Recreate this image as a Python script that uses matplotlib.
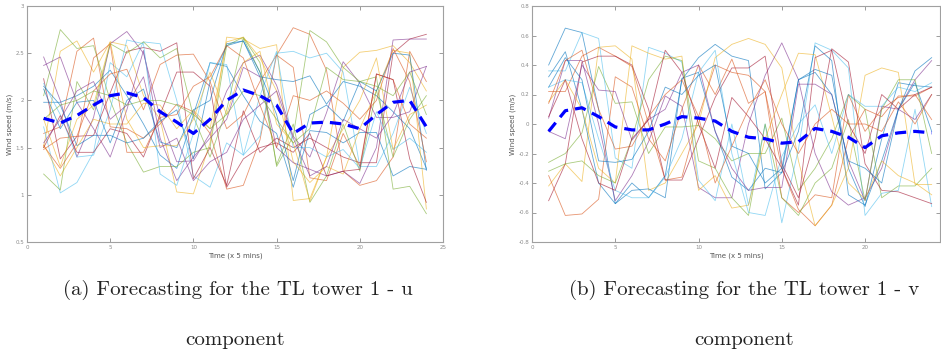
import matplotlib
matplotlib.use("Agg")
import matplotlib.pyplot as plt
from matplotlib.ticker import FormatStrFormatter

steps = list(range(1, 25))

# u component forecasts (m/s)
u_runs = [
    [1.98, 1.98, 2.05, 2.15, 2.32, 2.05, 1.75, 1.42, 1.28, 1.85, 2.40, 2.36, 2.05, 1.78, 1.65, 1.08, 1.68, 1.66, 1.55, 1.66, 1.66, 1.20, 1.30, 1.27],
    [1.65, 1.72, 2.52, 2.66, 1.72, 1.70, 1.60, 1.75, 1.96, 1.88, 1.65, 1.06, 1.10, 1.58, 2.48, 2.77, 2.70, 2.32, 1.25, 1.10, 1.15, 1.40, 2.52, 2.20],
    [1.50, 2.52, 2.63, 2.30, 2.62, 2.58, 2.05, 1.80, 1.03, 1.01, 1.55, 2.67, 2.65, 2.55, 2.59, 0.94, 0.96, 1.40, 2.35, 2.51, 2.53, 2.58, 2.40, 2.10],
    [2.46, 2.00, 1.40, 1.82, 2.60, 2.73, 2.50, 1.82, 1.35, 1.36, 1.65, 2.10, 2.40, 2.48, 2.16, 1.62, 1.40, 1.87, 2.41, 2.18, 1.82, 1.82, 1.88, 2.36],
    [2.05, 2.75, 2.55, 2.58, 2.00, 1.55, 1.24, 1.30, 1.30, 1.45, 1.50, 2.58, 2.67, 2.40, 1.30, 1.62, 2.74, 2.62, 2.35, 2.20, 2.25, 1.06, 1.09, 0.80],
    [1.72, 1.02, 1.13, 1.45, 2.40, 2.25, 2.62, 2.60, 2.00, 1.20, 1.08, 1.55, 1.42, 1.62, 2.50, 2.52, 2.45, 2.50, 2.30, 1.30, 1.30, 1.65, 2.14, 1.65],
    [2.23, 1.38, 1.62, 1.63, 2.08, 2.52, 2.56, 2.52, 2.61, 1.17, 1.50, 1.10, 1.89, 1.45, 1.60, 1.50, 1.60, 1.50, 1.40, 1.34, 1.34, 2.50, 2.65, 2.70],
    [2.15, 1.95, 1.52, 1.63, 1.63, 1.55, 1.60, 1.78, 1.90, 1.38, 2.20, 2.58, 2.63, 2.25, 2.22, 2.20, 2.26, 1.96, 2.20, 2.15, 2.05, 1.88, 1.70, 1.28],
    [1.48, 1.60, 1.62, 2.10, 2.28, 2.33, 1.90, 2.38, 2.48, 2.49, 2.20, 1.70, 1.85, 2.20, 2.48, 2.35, 1.18, 1.15, 1.65, 1.30, 2.28, 2.22, 1.75, 1.60],
    [1.53, 1.20, 1.50, 1.80, 1.75, 1.75, 1.97, 1.95, 1.70, 1.90, 1.70, 2.62, 2.67, 2.45, 2.10, 1.35, 1.13, 1.30, 1.22, 1.70, 2.10, 2.53, 2.50, 0.85],
    [2.37, 2.46, 1.98, 1.70, 1.40, 1.90, 2.53, 1.60, 1.15, 1.40, 1.60, 1.80, 2.35, 2.25, 1.50, 1.34, 1.27, 1.20, 1.25, 1.12, 1.50, 2.64, 2.65, 2.65],
    [1.22, 1.05, 2.20, 1.90, 2.60, 2.50, 2.62, 2.45, 2.55, 1.83, 1.40, 1.90, 2.66, 2.30, 1.32, 1.75, 0.92, 1.20, 1.75, 1.25, 2.11, 1.40, 1.80, 2.05],
    [2.18, 1.85, 1.40, 1.42, 1.90, 2.64, 2.60, 1.22, 1.10, 1.65, 2.40, 2.38, 1.42, 2.05, 2.52, 1.50, 1.50, 1.40, 1.48, 1.28, 1.88, 1.48, 1.60, 1.45],
    [1.50, 1.84, 1.45, 1.45, 1.70, 1.65, 1.40, 1.85, 2.30, 2.30, 2.15, 1.08, 1.38, 1.50, 1.55, 1.45, 1.65, 1.20, 1.25, 1.27, 2.28, 2.22, 1.38, 0.92],
    [2.12, 1.70, 1.98, 2.00, 1.55, 2.00, 2.12, 1.56, 1.50, 1.90, 2.00, 2.60, 2.63, 2.30, 1.85, 1.15, 1.85, 1.95, 1.78, 2.20, 2.10, 2.50, 2.48, 1.26],
    [1.52, 1.28, 1.55, 2.45, 2.60, 1.45, 1.45, 1.82, 1.85, 2.15, 2.25, 2.58, 2.45, 1.95, 1.50, 2.05, 2.00, 2.10, 1.97, 1.80, 2.00, 2.55, 2.20, 1.35],
    [1.80, 1.30, 1.80, 1.95, 2.62, 1.80, 1.50, 1.52, 1.52, 1.80, 2.30, 1.85, 2.40, 2.52, 1.75, 1.55, 0.93, 1.40, 1.70, 2.00, 2.45, 1.48, 1.85, 1.95],
    [1.55, 1.80, 2.10, 2.20, 1.80, 1.95, 2.25, 1.50, 1.60, 1.15, 1.35, 1.45, 1.80, 1.95, 2.10, 1.60, 1.20, 1.30, 1.80, 1.70, 1.60, 1.85, 2.30, 2.36],
    [1.80, 1.95, 2.00, 2.10, 2.05, 1.95, 2.00, 2.00, 1.95, 1.85, 1.70, 1.85, 2.10, 2.05, 1.80, 1.55, 1.70, 2.35, 2.22, 2.20, 2.15, 2.05, 2.30, 1.85],
]
u_mean = [1.81, 1.76, 1.84, 1.95, 2.05, 2.08, 2.03, 1.88, 1.77, 1.65, 1.80, 2.00,
          2.11, 2.05, 1.95, 1.65, 1.76, 1.77, 1.75, 1.70, 1.85, 1.98, 2.00, 1.72]

# v component forecasts (m/s)
v_runs = [
    [0.40, 0.65, 0.62, 0.10, -0.54, -0.40, -0.50, -0.35, 0.30, 0.45, 0.54, 0.46, 0.43, -0.44, -0.33, 0.30, 0.37, 0.33, -0.30, -0.56, -0.10, 0.28, 0.26, 0.25],
    [0.22, 0.22, 0.46, 0.52, 0.46, 0.39, 0.00, -0.38, -0.36, 0.05, 0.40, 0.35, 0.33, 0.22, -0.30, -0.58, -0.69, -0.55, -0.10, 0.10, 0.05, 0.19, 0.19, 0.25],
    [-0.42, -0.27, -0.39, 0.52, 0.53, 0.44, -0.45, -0.40, -0.20, 0.00, 0.45, 0.54, 0.58, 0.54, 0.38, -0.25, -0.69, -0.55, -0.30, 0.33, 0.38, 0.35, -0.41, -0.41],
    [0.04, 0.43, 0.43, 0.00, -0.52, -0.35, -0.12, 0.19, 0.12, -0.43, -0.50, -0.50, 0.00, 0.33, 0.55, 0.30, -0.20, -0.46, -0.55, -0.50, -0.30, 0.10, 0.30, 0.43],
    [-0.26, -0.20, -0.06, 0.39, 0.14, 0.15, -0.20, -0.02, -0.02, -0.01, -0.10, -0.25, -0.20, -0.20, 0.04, -0.45, -0.30, -0.10, 0.20, 0.10, -0.50, -0.42, -0.42, -0.30],
    [0.36, 0.36, 0.62, 0.58, -0.23, -0.30, 0.52, 0.48, 0.42, -0.38, -0.52, 0.00, -0.55, 0.00, -0.67, -0.17, 0.55, 0.50, 0.38, -0.62, -0.47, -0.45, 0.10, -0.56],
    [-0.52, -0.27, 0.42, 0.46, 0.46, 0.40, 0.10, -0.38, -0.38, -0.10, 0.18, 0.38, 0.38, 0.46, -0.27, -0.50, -0.10, 0.51, 0.42, -0.27, -0.45, -0.46, -0.50, -0.54],
    [0.32, 0.49, 0.10, -0.40, -0.54, -0.45, -0.44, -0.50, 0.31, 0.35, -0.05, -0.36, -0.45, -0.30, -0.33, -0.05, 0.53, 0.43, -0.48, -0.55, -0.25, 0.10, 0.36, 0.45],
    [-0.35, -0.62, -0.61, -0.51, 0.32, 0.25, -0.10, -0.25, 0.10, 0.40, 0.20, 0.44, 0.14, 0.22, -0.50, -0.60, -0.48, -0.50, 0.20, -0.05, 0.10, 0.18, 0.20, 0.03],
    [0.15, 0.30, 0.10, -0.30, -0.40, 0.53, 0.48, 0.44, 0.46, -0.45, -0.35, -0.57, -0.55, -0.10, 0.20, 0.48, 0.47, 0.05, -0.40, -0.51, -0.25, -0.35, -0.40, -0.48],
    [-0.05, -0.10, 0.40, 0.23, 0.22, -0.11, 0.03, 0.10, 0.35, 0.40, -0.05, -0.30, -0.45, -0.43, -0.43, 0.27, 0.27, 0.20, -0.25, -0.52, 0.12, 0.10, 0.03, 0.20],
    [-0.32, -0.27, -0.25, -0.35, -0.40, -0.10, 0.30, 0.46, 0.43, -0.25, -0.30, -0.50, -0.62, 0.00, -0.50, -0.62, -0.40, -0.30, 0.03, -0.52, 0.10, 0.30, 0.30, -0.20],
    [0.25, 0.30, 0.28, -0.10, -0.45, -0.50, -0.50, -0.36, -0.10, 0.35, 0.50, -0.20, -0.60, -0.62, -0.22, 0.00, 0.13, -0.20, 0.20, 0.12, 0.12, 0.25, 0.22, 0.28],
    [0.05, 0.30, -0.10, -0.40, -0.45, -0.10, 0.03, 0.50, 0.35, 0.00, -0.30, 0.18, 0.05, -0.10, -0.30, -0.55, 0.45, 0.50, 0.00, -0.20, 0.20, 0.10, 0.20, 0.25],
    [0.25, 0.45, 0.30, -0.25, -0.26, -0.24, -0.05, 0.25, 0.20, 0.33, 0.40, -0.15, -0.20, -0.40, -0.30, 0.30, 0.35, 0.20, -0.25, -0.30, -0.40, 0.10, 0.28, -0.05],
    [0.14, 0.43, 0.50, 0.10, -0.17, -0.15, 0.05, 0.20, 0.30, 0.05, -0.40, -0.15, 0.10, 0.30, 0.00, -0.20, 0.00, 0.10, 0.00, 0.00, -0.05, 0.15, 0.00, 0.20],
]
v_mean = [-0.05, 0.09, 0.11, 0.05, -0.02, -0.04, -0.04, 0.00, 0.05, 0.04, 0.02, -0.05,
          -0.09, -0.10, -0.13, -0.12, -0.03, -0.05, -0.09, -0.16, -0.08, -0.06, -0.05, -0.06]

# matlab default line colours
colours = ['#0072BD', '#D95319', '#EDB120', '#7E2F8E', '#77AC30', '#4DBEEE', '#A2142F']
grey = '#8c8c8c'

fig = plt.figure(figsize=(9.41, 3.52), dpi=100)
ax1 = fig.add_axes([27/941, 110/352, 416/941, 236/352])
ax2 = fig.add_axes([532/941, 110/352, 408/941, 236/352])


def draw(ax, runs, mean, ylim, yticks, xlim, xticks):
    for i, run in enumerate(runs):
        ax.plot(steps, run, color=colours[i % len(colours)], lw=0.6, alpha=0.62)
    ax.plot(steps, mean, color='#0000FF', lw=2.3, ls=(0, (3.5, 2.2)))
    ax.set_xlim(xlim)
    ax.set_ylim(ylim)
    ax.set_xticks(xticks)
    ax.set_yticks(yticks)
    ax.yaxis.set_major_formatter(FormatStrFormatter('%g'))
    ax.tick_params(direction='in', length=3, width=0.6, labelsize=4,
                   colors=grey, top=True, right=True, pad=2)
    for s in ax.spines.values():
        s.set_color('#a0a0a0')
        s.set_linewidth(0.8)
    ax.set_xlabel('Time (x 5 mins)', fontsize=5, color='#555555', labelpad=2)
    ax.set_ylabel('Wind speed (m/s)', fontsize=5, color='#555555', labelpad=2)


draw(ax1, u_runs, u_mean, (0.5, 3), [0.5, 1, 1.5, 2, 2.5, 3], (0, 25), [0, 5, 10, 15, 20, 25])
draw(ax2, v_runs, v_mean, (-0.8, 0.8), [-0.8, -0.6, -0.4, -0.2, 0, 0.2, 0.4, 0.6, 0.8],
     (0, 24.5), [0, 5, 10, 15, 20])

cap = dict(family='cmr10', fontsize=15, ha='center', va='center', color='#222222')
fig.text(238/941, 1 - 290/352, '(a) Forecasting for the TL tower 1 - u', **cap)
fig.text(235/941, 1 - 340/352, 'component', **cap)
fig.text(744/941, 1 - 290/352, '(b) Forecasting for the TL tower 1 - v', **cap)
fig.text(744/941, 1 - 340/352, 'component', **cap)

fig.savefig('out.png', dpi=100)
